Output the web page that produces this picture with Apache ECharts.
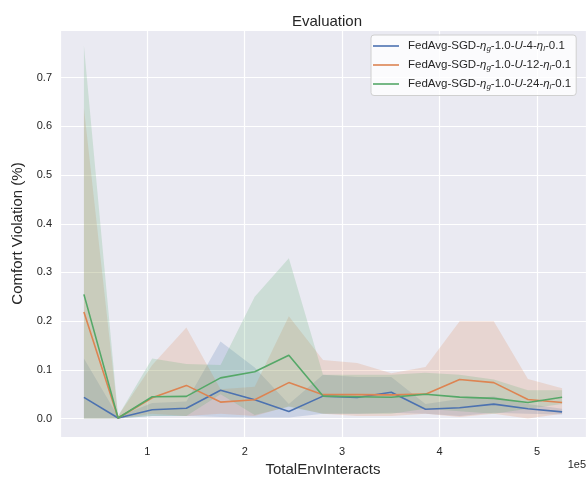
<!DOCTYPE html>
<html>
<head>
<meta charset="utf-8">
<script src="https://cdn.jsdelivr.net/npm/echarts@6/dist/echarts.min.js"></script>
<style>html,body{margin:0;padding:0;background:#fff}#c{width:587px;height:477px}</style>
</head>
<body>
<div id="c"></div>
<script>
// ---- data ----
var xValues = [35040, 70080, 105120, 140160, 175200, 210240, 245280, 280320, 315360, 350400, 385440, 420480, 455520, 490560, 525600];
var meanU4  = [0.0435, 0.001, 0.018, 0.021, 0.058, 0.0385, 0.0145, 0.046, 0.043, 0.054, 0.019, 0.022, 0.0296, 0.020, 0.0137];
var lowU4   = [0.000, 0.000, 0.005, 0.005, 0.003, 0.002, 0.002, 0.010, 0.010, 0.012, 0.010, 0.005, 0.012, 0.010, 0.008];
var highU4  = [0.123, 0.004, 0.032, 0.035, 0.158, 0.105, 0.030, 0.090, 0.085, 0.085, 0.030, 0.040, 0.045, 0.030, 0.020];
var meanU12 = [0.2186, 0.001, 0.0427, 0.068, 0.0337, 0.0385, 0.0737, 0.049, 0.049, 0.0485, 0.050, 0.080, 0.0737, 0.039, 0.033];
var lowU12  = [0.000, 0.000, 0.010, 0.005, 0.010, 0.005, 0.025, 0.010, 0.005, 0.005, 0.010, 0.003, 0.010, 0.000, 0.010];
var highU12 = [0.638, 0.005, 0.110, 0.187, 0.060, 0.065, 0.210, 0.120, 0.114, 0.093, 0.106, 0.200, 0.200, 0.081, 0.062];
var meanU24 = [0.255, 0.001, 0.0447, 0.0455, 0.0834, 0.0959, 0.130, 0.046, 0.0447, 0.0435, 0.0497, 0.044, 0.0414, 0.033, 0.0435];
var lowU24  = [0.000, 0.000, 0.005, 0.005, 0.050, 0.007, 0.024, 0.010, 0.010, 0.010, 0.020, 0.015, 0.010, 0.020, 0.030];
var highU24 = [0.766, 0.005, 0.123, 0.112, 0.110, 0.250, 0.329, 0.090, 0.090, 0.090, 0.094, 0.090, 0.080, 0.058, 0.058];
var yTicks = [0.0, 0.1, 0.2, 0.3, 0.4, 0.5, 0.6, 0.7];
var xTicks = [100000, 200000, 300000, 400000, 500000];

var colors = ['#4c72b0', '#dd8452', '#55a868'];
var legendNames = ['FedAvg-SGD-ηg-1.0-U-4-ηl-0.1', 'FedAvg-SGD-ηg-1.0-U-12-ηl-0.1', 'FedAvg-SGD-ηg-1.0-U-24-ηl-0.1'];
var legendRich = [
  'FedAvg-SGD-{i|η}{s|g}-1.0-{i|U}-4-{i|η}{s|l}-0.1',
  'FedAvg-SGD-{i|η}{s|g}-1.0-{i|U}-12-{i|η}{s|l}-0.1',
  'FedAvg-SGD-{i|η}{s|g}-1.0-{i|U}-24-{i|η}{s|l}-0.1'
];
var means = [meanU4, meanU12, meanU24];
var lows = [lowU4, lowU12, lowU24];
var highs = [highU4, highU12, highU24];

function pairs(arr) { return xValues.map(function (x, i) { return [x, arr[i]]; }); }

var series = [];
for (var s = 0; s < 3; s++) {
  (function (k) {
    var bandData = xValues.map(function (x, i) { return [x, lows[k][i], highs[k][i]]; });
    series.push({
      type: 'custom', name: 'band' + k, silent: true, z: 1,
      data: bandData,
      encode: { x: 0, y: [1, 2] },
      renderItem: function (params, api) {
        if (params.dataIndex !== 0) return null;
        var pts = [];
        for (var i = 0; i < bandData.length; i++) pts.push(api.coord([bandData[i][0], bandData[i][2]]));
        for (var j = bandData.length - 1; j >= 0; j--) pts.push(api.coord([bandData[j][0], bandData[j][1]]));
        return { type: 'polygon', shape: { points: pts }, style: { fill: colors[k], opacity: 0.2 } };
      }
    });
  })(s);
}
for (var s2 = 0; s2 < 3; s2++) {
  series.push({
    type: 'line', name: legendNames[s2], data: pairs(means[s2]),
    symbol: 'none', lineStyle: { color: colors[s2], width: 1.6 }, itemStyle: { color: colors[s2] }, z: 5
  });
}

var chart = echarts.init(document.getElementById('c'), null, { renderer: 'canvas' });
var txt = '#262626';
var ff = "'Liberation Sans', Arial, sans-serif";
function isTick(v, list) { return list.some(function (t) { return Math.abs(t - v) < 1e-9 * Math.max(1, Math.abs(t)); }); }
chart.setOption({
  animation: false,
  backgroundColor: '#ffffff',
  title: { text: 'Evaluation', left: 322, textAlign: 'center', top: 9, textStyle: { fontFamily: ff, fontSize: 15, fontWeight: 'normal', color: txt } },
  grid: { left: 60, right: 1, top: 30, bottom: 40, show: true, backgroundColor: '#eaeaf2', borderWidth: 0,
    containLabel: false, outerBoundsMode: 'none' },
  xAxis: {
    type: 'value', min: 10512, max: 550128,
    name: 'TotalEnvInteracts', nameLocation: 'middle', nameGap: 23,
    nameTextStyle: { fontFamily: ff, fontSize: 15, color: txt },
    axisLine: { show: false }, axisTick: { show: false },
    splitLine: { show: true, lineStyle: { color: '#ffffff', width: 1.2 } },
    axisLabel: { color: txt, fontFamily: ff, fontSize: 11, margin: 9,
      formatter: function (v) { return isTick(v, xTicks) ? String(Math.round(v / 1e5)) : ''; } }
  },
  yAxis: {
    type: 'value', min: -0.038, max: 0.798, splitNumber: 8,
    name: 'Comfort Violation (%)', nameLocation: 'middle', nameGap: 30, nameRotate: 90,
    nameTextStyle: { fontFamily: ff, fontSize: 15, color: txt },
    axisLine: { show: false }, axisTick: { show: false },
    splitLine: { show: true, lineStyle: { color: '#ffffff', width: 1.2 } },
    axisLabel: { color: txt, fontFamily: ff, fontSize: 11, margin: 8,
      formatter: function (v) { return isTick(v, yTicks) ? v.toFixed(1) : ''; } }
  },
  legend: {
    data: legendNames.map(function (n) { return { name: n, icon: 'rect' }; }),
    orient: 'vertical', left: 371, top: 35,
    backgroundColor: 'rgba(255,255,255,0.8)', borderColor: '#d0d0d0', borderWidth: 1, borderRadius: 3,
    padding: [5, 5, 5, 2], itemWidth: 26, itemHeight: 1.6, itemGap: 6.5,
    formatter: function (name) { return legendRich[legendNames.indexOf(name)]; },
    textStyle: { color: txt, fontFamily: ff, fontSize: 11.5, padding: [0, 0, 0, 4],
      rich: {
        i: { fontStyle: 'italic', fontFamily: ff, fontSize: 11.5, color: txt },
        s: { fontStyle: 'italic', fontFamily: ff, fontSize: 8, color: txt, padding: [5, 0, 0, 0] }
      } }
  },
  graphic: [{ type: 'text', right: 1, top: 459, style: { text: '1e5', fontFamily: ff, fontSize: 11, fill: txt } }],
  series: series
});
</script>
</body>
</html>
